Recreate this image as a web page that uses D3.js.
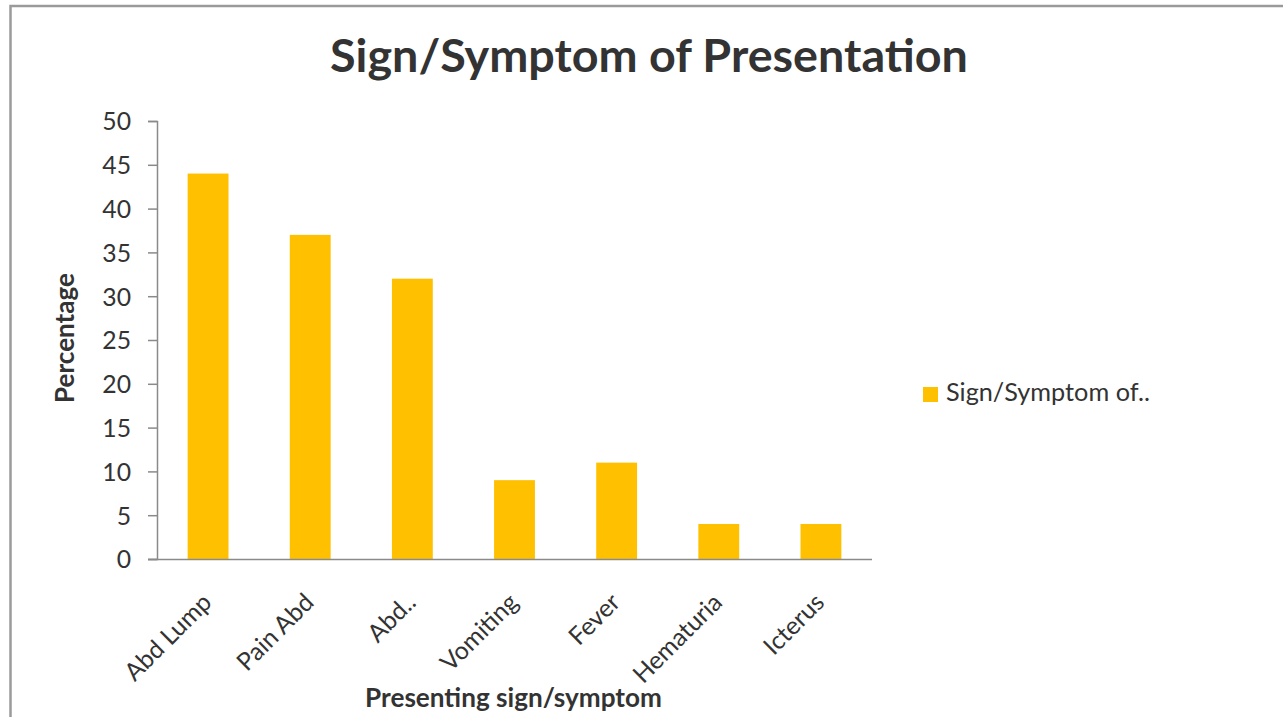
<!DOCTYPE html>
<html>
<head>
<meta charset="utf-8">
<script src="https://cdn.jsdelivr.net/npm/d3@7"></script>
<style>
  html, body { margin: 0; padding: 0; background: #fff; }
  svg { display: block; }
  text { font-family: Lato, "Open Sans", sans-serif; fill: #333; }
</style>
</head>
<body>
<svg id="chart" width="1283" height="717"></svg>
<script>
const categories = ["Abd Lump", "Pain Abd", "Abd..", "Vomiting", "Fever", "Hematuria", "Icterus"];
const values = [44, 37, 32, 9, 11, 4, 4];
const yTicks = [0, 5, 10, 15, 20, 25, 30, 35, 40, 45, 50];
const chartTitle = "Sign/Symptom of Presentation";
const xTitle = "Presenting sign/symptom";
const yTitle = "Percentage";
const legendLabel = "Sign/Symptom of..";

(function () {
const svg = d3.select("#chart");
const W = 1283, H = 717;
const pLeft = 157, pRight = 872, pTop = 121, pBottom = 559;
const barColor = "#FFC000";
const axisColor = "#8a8a8a";

// outer border (top + left visible)
svg.append("path")
  .attr("d", `M10.5,${H} V6 H${W}`)
  .attr("fill", "none")
  .attr("stroke", "#9a9a9a")
  .attr("stroke-width", 2.5);

function fitWidth(sel, target) {
  const w = sel.node().getComputedTextLength();
  const fs = parseFloat(sel.attr("font-size"));
  sel.attr("font-size", fs * target / w);
}

const x = d3.scaleBand().domain(categories).range([pLeft, pRight]).paddingInner(0.6).paddingOuter(0.3);
const y = d3.scaleLinear().domain([0, 50]).range([pBottom, pTop]);

// bars
svg.append("g").selectAll("rect")
  .data(values)
  .join("rect")
  .attr("x", (d, i) => x(categories[i]))
  .attr("y", d => y(d))
  .attr("width", x.bandwidth())
  .attr("height", d => y(0) - y(d))
  .attr("fill", barColor);

// y axis
const yAxis = d3.axisLeft(y).tickValues(yTicks).tickSize(9).tickPadding(17).tickFormat(d3.format("d"));
const gy = svg.append("g").attr("transform", `translate(${pLeft},0)`).call(yAxis);
gy.select(".domain").attr("stroke", axisColor).attr("stroke-width", 1.5);
gy.selectAll(".tick line").attr("stroke", axisColor).attr("stroke-width", 1.5);
gy.selectAll(".tick text")
  .attr("font-size", 20)
  .attr("font-family", "Lato, 'Open Sans', sans-serif")
  .attr("fill", "#333")
  .attr("dy", "0.36em");

// x axis line
const xAxis = d3.axisBottom(x).tickSize(0).tickFormat("");
const gx = svg.append("g").attr("transform", `translate(0,${pBottom})`).call(xAxis);
gx.select(".domain").attr("d", `M${pLeft - 9},0.5H${pRight}`).attr("stroke", axisColor).attr("stroke-width", 1.5);

// x labels rotated
const xl = svg.append("g").selectAll("text")
  .data(categories)
  .join("text")
  .attr("transform", d => `translate(${x(d) + x.bandwidth() / 2 + 5},604) rotate(-45)`)
  .attr("text-anchor", "end")
  .attr("font-size", 20)
  .text(d => d);
const hem = xl.filter(d => d === "Hematuria");
const hw = hem.node().getComputedTextLength();
const labelSize = 20 * 114 / hw;
xl.attr("font-size", labelSize);
gy.selectAll(".tick text").attr("font-size", labelSize);

// title
const t = svg.append("text")
  .attr("x", 649).attr("y", 72)
  .attr("text-anchor", "middle")
  .attr("font-size", 40)
  .attr("font-weight", "bold")
  .attr("fill", "#2e2e2e")
  .text(chartTitle);
fitWidth(t, 638);

// y title
const yt = svg.append("text")
  .attr("transform", "translate(74,338) rotate(-90)")
  .attr("text-anchor", "middle")
  .attr("font-size", 20)
  .attr("font-weight", "bold")
  .text(yTitle);
fitWidth(yt, 130);

// x title
const xt = svg.append("text")
  .attr("x", 513.5).attr("y", 707)
  .attr("text-anchor", "middle")
  .attr("font-size", 20)
  .attr("font-weight", "bold")
  .text(xTitle);
fitWidth(xt, 297);

// legend
svg.append("rect")
  .attr("x", 923).attr("y", 387)
  .attr("width", 15).attr("height", 15)
  .attr("fill", barColor);
const lt = svg.append("text")
  .attr("x", 946).attr("y", 401)
  .attr("font-size", 20)
  .text(legendLabel);
fitWidth(lt, 204);
})();
</script>
</body>
</html>
